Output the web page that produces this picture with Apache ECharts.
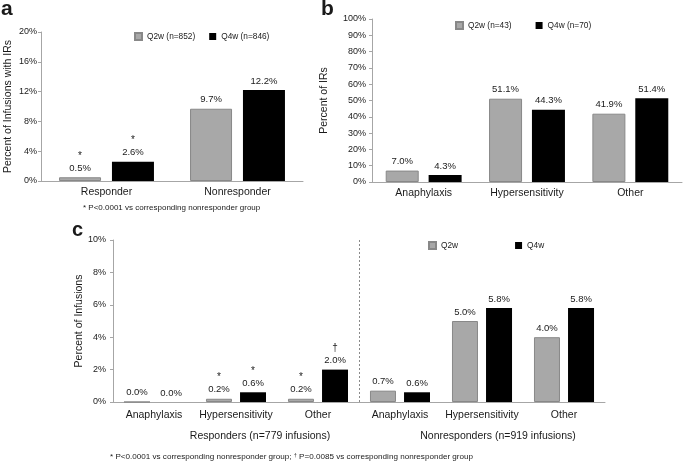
<!DOCTYPE html>
<html>
<head>
<meta charset="utf-8">
<script src="https://cdn.jsdelivr.net/npm/echarts@6/dist/echarts.min.js"></script>
<style>
html,body{margin:0;padding:0;background:#fff;}
#chart{width:685px;height:464px;}
</style>
</head>
<body>
<div id="chart"></div>
<script>
// ---- Panel a ----
const aCategories = ['Responder', 'Nonresponder'];
const aQ2w = [0.5, 9.7];
const aQ4w = [2.6, 12.2];
const aQ2wMarks = ['*', ''];
const aQ4wMarks = ['*', ''];
const aSeriesNames = ['Q2w (n=852)', 'Q4w (n=846)'];
const aTicks = { min: 0, max: 20, interval: 4 };

// ---- Panel b ----
const bCategories = ['Anaphylaxis', 'Hypersensitivity', 'Other'];
const bQ2w = [7.0, 51.1, 41.9];
const bQ4w = [4.3, 44.3, 51.4];
const bSeriesNames = ['Q2w (n=43)', 'Q4w (n=70)'];
const bTicks = { min: 0, max: 100, interval: 10 };

// ---- Panel c ----
const cCategories = ['Anaphylaxis', 'Hypersensitivity', 'Other', 'Anaphylaxis', 'Hypersensitivity', 'Other'];
const cQ2w = [0.0, 0.2, 0.2, 0.7, 5.0, 4.0];
const cQ4w = [0.0, 0.6, 2.0, 0.6, 5.8, 5.8];
const cQ2wMarks = ['', '*', '*', '', '', ''];
const cQ4wMarks = ['', '*', '\u2020', '', '', ''];
const cSeriesNames = ['Q2w', 'Q4w'];
const cGroups = ['Responders (n=779 infusions)', 'Nonresponders (n=919 infusions)'];
const cDividerAxis = ['', 'divider', ''];
const cTicks = { min: 0, max: 10, interval: 2 };

const FONT = 'Liberation Sans, Arial, sans-serif';
const GRAY = '#a8a8a8';
const GRAYB = '#888888';
const AX = '#a6a6a6';
const TXT = '#1a1a1a';

function labelFmt(marks) {
  return function (p) {
    const v = p.value.toFixed(1) + '%';
    const m = marks ? marks[p.dataIndex] : '';
    return m ? '{m|' + m + '}\n{v|' + v + '}' : '{v|' + v + '}';
  };
}
function barLabel(marks) {
  return {
    show: true, position: 'top', distance: 3,
    formatter: labelFmt(marks),
    rich: {
      m: { fontFamily: FONT, fontSize: 10, color: TXT, lineHeight: 13, align: 'center' },
      v: { fontFamily: FONT, fontSize: 9.5, color: TXT, lineHeight: 12, align: 'center' }
    }
  };
}
function xAxis(gridIndex, cats, margin, extra) {
  return Object.assign({
    type: 'category', gridIndex: gridIndex, data: cats,
    axisLine: { show: true, lineStyle: { color: AX, width: 1 } },
    axisTick: { show: false },
    axisLabel: { fontFamily: FONT, fontSize: 10.5, color: TXT, margin: margin, interval: 0 }
  }, extra || {});
}
function yAxis(gridIndex, t, name, gap, margin) {
  return {
    type: 'value', gridIndex: gridIndex, min: t.min, max: t.max, interval: t.interval,
    name: name, nameLocation: 'middle', nameGap: gap, nameRotate: 90, nameMoveOverlap: false,
    nameTextStyle: { fontFamily: FONT, fontSize: 10.5, color: TXT },
    axisLine: { show: true, lineStyle: { color: AX, width: 1 } },
    axisTick: { show: true, length: 3, lineStyle: { color: AX } },
    splitLine: { show: false },
    axisLabel: { fontFamily: FONT, fontSize: 9, color: TXT, margin: margin, formatter: '{value}%' }
  };
}
function bar(name, xi, yi, data, color, border, width, gap, marks) {
  return {
    type: 'bar', name: name, xAxisIndex: xi, yAxisIndex: yi, data: data,
    barWidth: width, barGap: gap,
    itemStyle: { color: color, borderColor: border, borderWidth: border === color ? 0 : 1 },
    label: barLabel(marks),
    emphasis: { disabled: true }
  };
}
function legend(names, left, top, gap) {
  return {
    data: names, left: left, top: top, itemGap: gap, icon: 'rect', padding: 0,
    itemWidth: 7, itemHeight: 7, selectedMode: false,
    textStyle: { fontFamily: FONT, fontSize: 8.3, color: TXT }
  };
}
function txt(text, left, top, size, weight, align) {
  return {
    text: text, left: left, top: top, textAlign: align || 'left', padding: 0,
    textStyle: { fontFamily: FONT, fontSize: size, fontWeight: weight || 'normal', color: TXT }
  };
}

const chart = echarts.init(document.getElementById('chart'), null, { renderer: 'canvas' });
chart.setOption({
  animation: false,
  backgroundColor: '#fff',
  title: [
    txt('a', 1, -1, 21, 'bold'),
    txt('b', 321, -1, 21, 'bold'),
    txt('c', 72, 220, 20, 'bold'),
    txt('* P<0.0001 vs corresponding nonresponder group', 83, 204, 8, 'normal'),
    {
      text: '{n|* P<0.0001 vs corresponding nonresponder group; }{s|\u2020}{n| P=0.0085 vs corresponding nonresponder group}',
      left: 110, top: 452, padding: 0,
      textStyle: { fontWeight: 'normal', fontFamily: FONT, fontSize: 8.1, color: TXT, rich: {
        n: { fontFamily: FONT, fontSize: 8.1, fontWeight: 'normal', color: TXT },
        s: { fontFamily: FONT, fontSize: 5.5, fontWeight: 'normal', color: TXT, verticalAlign: 'top', padding: [0, 0, 4, 0] }
      } }
    },
    txt(cGroups[0], 260, 431, 10.5, 'normal', 'center'),
    txt(cGroups[1], 498, 431, 10.5, 'normal', 'center')
  ],
  legend: [
    legend(aSeriesNames, 134, 32, 14),
    legend(bSeriesNames, 455, 21, 24),
    legend(cSeriesNames, 428, 241, 57)
  ],
  grid: [
    { left: 41, top: 32, width: 262, height: 149 },
    { left: 372, top: 19, width: 310, height: 163 },
    { left: 113, top: 240, width: 492, height: 162 }
  ],
  xAxis: [
    xAxis(0, aCategories, 6),
    xAxis(1, bCategories, 6),
    xAxis(2, cCategories, 8),
    {
      type: 'category', gridIndex: 2, data: cDividerAxis, boundaryGap: false,
      position: 'bottom', axisLine: { show: false }, axisTick: { show: false },
      axisLabel: { show: false },
      splitLine: { show: true, interval: function (i) { return i === 1; },
        lineStyle: { color: '#8a8a8a', type: [2, 2], width: 1 } }
    }
  ],
  yAxis: [
    yAxis(0, aTicks, 'Percent of Infusions with IRs', 27, 4),
    yAxis(1, bTicks, 'Percent of IRs', 42, 6),
    yAxis(2, cTicks, 'Percent of Infusions', 28, 7)
  ],
  series: [
    bar(aSeriesNames[0], 0, 0, aQ2w, GRAY, GRAYB, 42, '26%', aQ2wMarks),
    bar(aSeriesNames[1], 0, 0, aQ4w, '#000', '#000', 42, '26%', aQ4wMarks),
    bar(bSeriesNames[0], 1, 1, bQ2w, GRAY, GRAYB, 33, '30%', null),
    bar(bSeriesNames[1], 1, 1, bQ4w, '#000', '#000', 33, '30%', null),
    bar(cSeriesNames[0], 2, 2, cQ2w, GRAY, GRAYB, 26, '31%', cQ2wMarks),
    bar(cSeriesNames[1], 2, 2, cQ4w, '#000', '#000', 26, '31%', cQ4wMarks)
  ]
});
</script>
</body>
</html>
